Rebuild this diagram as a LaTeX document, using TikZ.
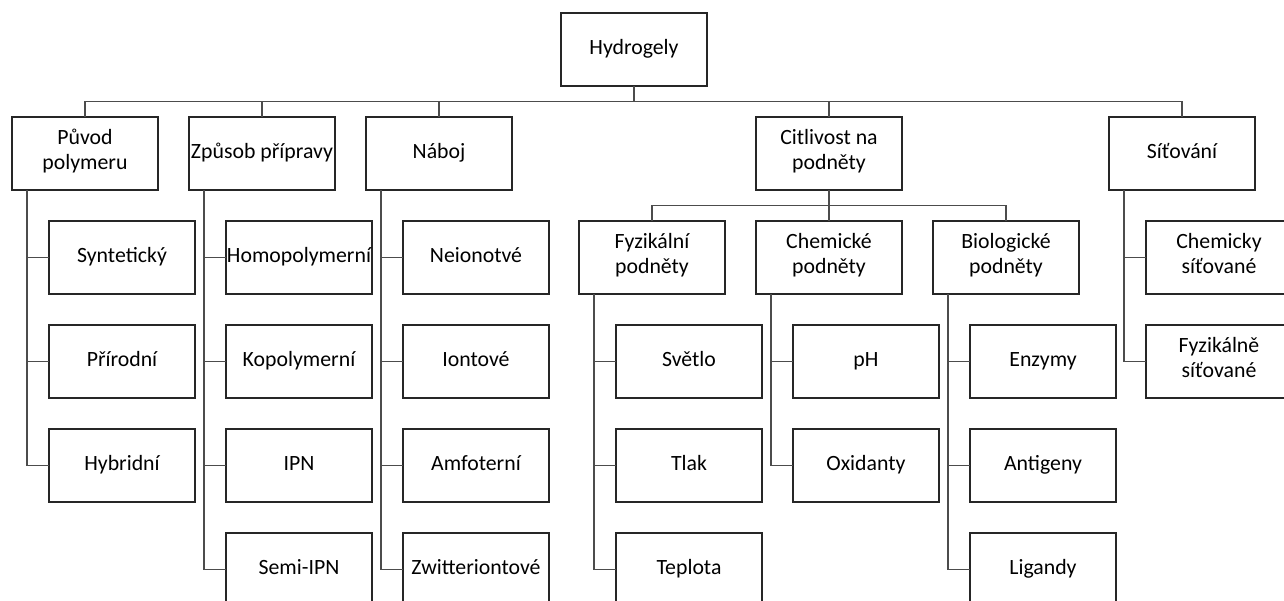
\documentclass[tikz,border=0pt]{standalone}
\usepackage{fontspec}
\setmainfont{Carlito}
\usetikzlibrary{positioning,calc}

\begin{document}
\begin{tikzpicture}[
    box/.style={rectangle,draw=black!85,line width=0.6pt,minimum width=2.92cm,minimum height=1.46cm,inner sep=0pt,outer sep=0pt,align=center,font=\fontsize{12.4}{14.2}\selectfont,
        execute at begin node=\strut,execute at end node=\strut},
    link/.style={draw=black!70,line width=0.8pt},
    node distance=0.62cm
]
    \useasboundingbox (0,0) rectangle (25.68,-12.02);
    \clip (0,0) rectangle (25.68,-12.02);

    % Main categories
    \node[box,anchor=north west] (puvod) at (0.24,-2.34) {Původ\\polymeru};
    \node[box,right=of puvod] (zpusob) {Způsob přípravy};
    \node[box,right=of zpusob] (naboj) {Náboj};
    \node[box,right=4.88cm of naboj] (citl) {Citlivost na\\podněty};
    \node[box,right=4.14cm of citl] (sitovani) {Síťování};
    \coordinate (mid) at ($(naboj.north east)!0.5!(citl.north west)$);
    \node[box,above=of mid] (hydro) {Hydrogely};

    % Stimuli
    \node[box,below=of citl] (chem) {Chemické\\podněty};
    \node[box,left=of chem] (fyz) {Fyzikální\\podněty};
    \node[box,right=of chem] (bio) {Biologické\\podněty};

    % Leaves
    \node[box,below right=0.62cm and 0.74cm of puvod.south west] (syn) {Syntetický};
    \node[box,below=of syn] (prir) {Přírodní};
    \node[box,below=of prir] (hyb) {Hybridní};

    \node[box,below right=0.62cm and 0.74cm of zpusob.south west] (homo) {Homopolymerní};
    \node[box,below=of homo] (kopo) {Kopolymerní};
    \node[box,below=of kopo] (ipn) {IPN};
    \node[box,below=of ipn] (semi) {Semi-IPN};

    \node[box,below right=0.62cm and 0.74cm of naboj.south west] (neion) {Neionotvé};
    \node[box,below=of neion] (iont) {Iontové};
    \node[box,below=of iont] (amfo) {Amfoterní};
    \node[box,below=of amfo] (zwit) {Zwitteriontové};

    \node[box,below right=0.62cm and 0.74cm of fyz.south west] (svetlo) {Světlo};
    \node[box,below=of svetlo] (tlak) {Tlak};
    \node[box,below=of tlak] (teplota) {Teplota};

    \node[box,below right=0.62cm and 0.74cm of chem.south west] (ph) {pH};
    \node[box,below=of ph] (oxid) {Oxidanty};

    \node[box,below right=0.62cm and 0.74cm of bio.south west] (enzym) {Enzymy};
    \node[box,below=of enzym] (antig) {Antigeny};
    \node[box,below=of antig] (ligand) {Ligandy};

    \node[box,below right=0.62cm and 0.74cm of sitovani.south west] (chemsit) {Chemicky\\síťované};
    \node[box,below=of chemsit] (fyzsit) {Fyzikálně\\síťované};

    % Buses
    \coordinate (bus) at ($(hydro.south)!0.5!(puvod.north)$);
    \draw[link] (puvod.north) |- (bus) -| (sitovani.north);
    \foreach \n in {hydro.south,zpusob.north,naboj.north,citl.north}
        \draw[link] (\n) -- (\n |- bus);

    \coordinate (bus2) at ($(citl.south)!0.5!(chem.north)$);
    \draw[link] (fyz.north) |- (bus2) -| (bio.north);
    \draw[link] (citl.south) -- (chem.north);

    % Side connectors
    \foreach \p/\c in {puvod/syn,puvod/prir,puvod/hyb,
                       zpusob/homo,zpusob/kopo,zpusob/ipn,zpusob/semi,
                       naboj/neion,naboj/iont,naboj/amfo,naboj/zwit,
                       fyz/svetlo,fyz/tlak,fyz/teplota,
                       chem/ph,chem/oxid,
                       bio/enzym,bio/antig,bio/ligand,
                       sitovani/chemsit,sitovani/fyzsit}
        \draw[link] ([xshift=0.3cm]\p.south west) |- (\c.west);
\end{tikzpicture}
\end{document}
